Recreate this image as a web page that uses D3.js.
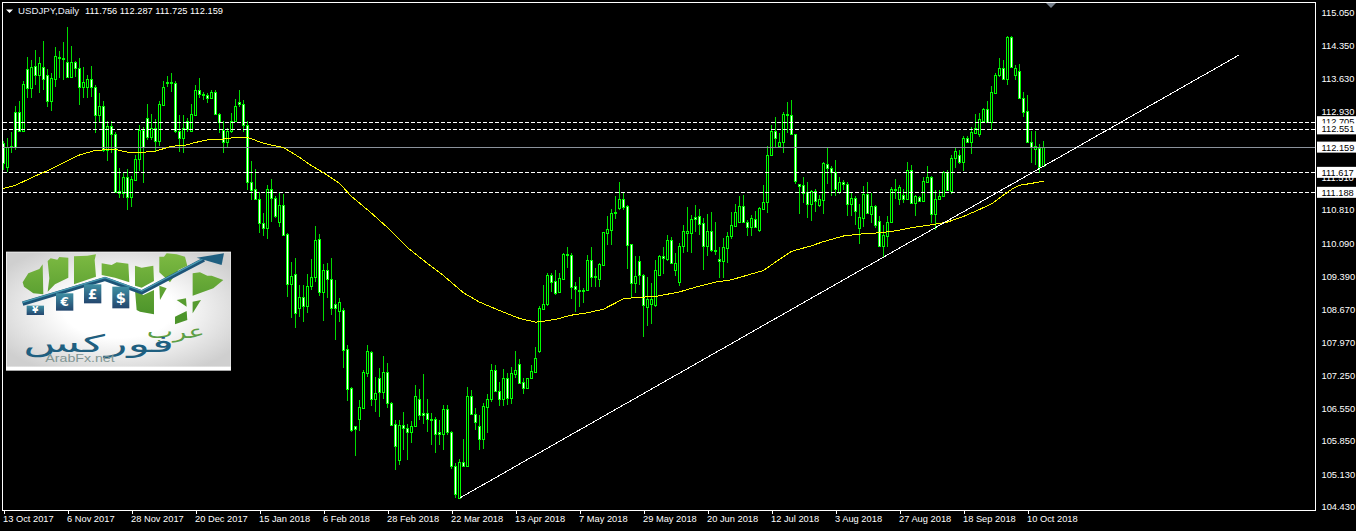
<!DOCTYPE html>
<html><head><meta charset="utf-8">
<script src="https://cdn.jsdelivr.net/npm/d3@7/dist/d3.min.js"></script>
<style>
html,body{margin:0;padding:0;background:#000;overflow:hidden}
svg{display:block}
text{font-family:"Liberation Sans",sans-serif}
</style></head><body>
<svg id="c" width="1356" height="531"></svg>
<script>
const symbolLabel = "USDJPY,Daily";
const quoteLabel = "111.756 112.287 111.725 112.159";
const opens = [112.24,111.74,112.16,112.91,112.92,112.51,113.83,113.42,113.90,113.71,
113.87,113.70,113.15,113.63,114.10,114.07,113.98,113.67,113.98,113.85,
113.44,113.44,113.62,113.44,112.85,113.04,112.10,112.61,112.43,111.22,
111.18,111.51,111.08,111.45,111.90,112.53,112.78,112.38,112.58,112.28,
113.06,113.55,113.53,113.53,112.51,112.36,112.71,112.51,112.85,113.39,
113.31,113.27,113.22,113.34,112.86,112.53,112.26,112.51,112.71,113.12,
113.08,112.63,111.42,111.25,111.05,110.52,110.43,111.27,111.07,110.54,
110.92,110.29,109.21,109.43,108.70,108.93,108.75,109.18,109.38,110.18,
109.05,109.53,109.32,108.78,108.63,108.66,107.82,106.98,106.18,106.31,
106.56,107.31,107.76,106.74,107.19,106.89,107.32,106.66,106.21,105.44,
106.19,106.12,106.05,106.16,106.74,106.44,106.44,106.33,106.33,106.03,
106.00,106.53,106.05,105.31,104.62,105.39,105.32,106.82,106.42,106.17,
105.88,106.58,106.76,107.37,106.93,106.74,107.19,106.78,107.29,107.50,
107.11,106.99,107.21,107.34,107.77,108.69,108.79,109.41,109.28,109.05,
109.33,109.86,109.84,109.18,109.10,109.08,109.09,109.74,109.39,109.32,
109.63,110.32,110.37,110.76,110.86,111.04,110.90,110.07,109.23,109.72,
109.41,108.73,108.79,108.77,109.41,109.82,109.76,110.16,109.53,109.27,
110.04,110.32,110.32,110.65,110.68,110.52,110.04,110.35,109.96,109.75,
109.71,110.00,110.24,110.47,110.54,110.90,110.54,110.45,110.61,110.37,
110.84,110.97,111.98,112.50,112.19,112.26,112.87,112.84,112.43,111.37,
111.34,111.20,110.94,111.21,110.92,111.02,111.80,111.70,111.63,111.20,
111.40,111.36,110.94,111.07,110.42,110.64,111.15,110.72,110.89,110.58,
110.04,110.26,110.54,111.27,111.05,111.13,111.04,111.67,110.95,111.08,
111.01,111.42,111.51,110.72,111.04,111.10,111.62,111.22,111.92,111.99,
111.83,112.35,112.26,112.47,112.43,112.73,112.97,112.69,113.33,113.70,
113.85,113.62,114.52,113.71,113.79,113.21,112.93,112.26,112.11,112.13,
111.756];
const closes = [111.81,112.17,112.18,112.17,112.51,113.52,113.42,113.87,113.71,113.96,
113.62,113.14,113.64,114.12,114.07,114.05,113.67,113.98,113.85,113.46,
113.55,113.62,113.44,112.85,113.04,112.10,112.61,112.43,111.20,111.18,
111.51,111.08,111.47,111.90,112.53,112.17,112.38,112.58,112.28,113.08,
113.46,113.53,113.55,112.51,112.36,112.58,112.54,112.86,113.39,113.30,
113.27,113.21,113.34,112.86,112.69,112.26,112.51,112.71,113.05,113.08,
112.63,111.42,111.24,111.05,110.52,110.43,111.27,111.07,110.68,110.92,
110.27,109.21,109.39,108.59,108.93,108.75,109.18,109.38,110.16,109.04,
109.53,109.32,108.71,108.71,108.83,107.80,106.97,106.08,106.10,106.57,
107.32,107.77,106.74,106.87,106.89,107.32,106.66,106.19,105.73,106.19,
106.12,106.05,106.17,106.81,106.41,106.41,106.31,106.30,106.00,106.00,
106.53,106.05,105.30,104.71,105.39,105.32,106.82,106.42,106.26,105.88,
106.60,106.76,107.37,106.93,106.74,107.19,106.78,107.30,107.37,107.10,
106.99,107.21,107.35,107.64,108.70,108.80,109.41,109.27,109.03,109.34,
109.86,109.84,109.16,109.12,109.08,109.10,109.74,109.38,109.36,109.65,
110.33,110.39,110.74,110.74,111.04,110.88,110.06,109.25,109.39,109.41,
108.76,108.89,108.89,109.53,109.82,109.77,110.16,109.68,109.68,110.04,
110.35,110.36,110.61,110.61,110.51,110.04,110.35,109.94,109.93,109.72,
110.01,110.25,110.48,110.76,110.90,110.54,110.45,110.63,110.45,110.85,
110.97,111.98,112.51,112.36,112.26,112.87,112.84,112.43,111.44,111.33,
111.18,110.94,111.21,111.01,111.04,111.81,111.70,111.63,111.26,111.40,
111.36,110.94,111.07,110.79,110.65,111.15,110.74,110.90,110.49,110.04,
110.27,110.54,111.27,111.25,111.30,111.05,111.67,110.95,111.10,111.01,
111.43,111.51,110.72,111.04,111.11,111.63,111.24,111.92,112.08,111.83,
112.36,112.26,112.48,112.58,112.76,112.97,112.69,113.34,113.70,113.85,
113.62,114.52,113.89,113.85,113.22,112.92,112.26,112.16,112.18,111.74,
112.159];
const highs = [112.28,112.35,112.49,113.04,113.14,113.58,114.10,114.03,114.25,114.10,
114.44,113.84,113.76,114.30,114.22,114.41,114.73,114.32,114.01,114.07,
113.89,113.71,113.91,113.49,113.32,113.14,112.71,112.71,112.49,111.70,
111.63,111.68,111.53,111.99,112.63,112.60,113.09,112.86,112.76,113.14,
113.57,113.69,113.74,113.57,112.85,112.85,112.78,113.09,113.49,113.64,
113.35,113.33,113.39,113.39,112.89,112.71,112.56,112.89,113.19,113.39,
113.17,112.71,111.87,111.68,111.20,110.74,111.35,111.47,111.10,111.20,
111.15,110.31,109.69,109.77,109.20,109.20,109.43,109.76,110.47,110.29,
109.64,109.66,109.77,109.31,108.91,108.70,107.91,107.00,106.18,106.73,
107.37,107.91,107.79,107.23,107.41,107.67,107.52,106.69,106.30,106.30,
106.48,106.21,106.28,107.05,106.96,107.29,106.76,106.44,106.37,106.30,
106.61,106.62,106.06,105.37,105.47,105.88,107.00,106.94,106.55,106.41,
106.66,106.86,107.50,107.48,107.12,107.39,107.30,107.44,107.78,107.60,
107.19,107.21,107.48,107.87,108.75,109.20,109.46,109.46,109.53,109.45,
109.88,110.02,109.88,109.27,109.38,109.13,109.84,110.01,109.56,109.66,
110.34,110.67,110.82,111.10,111.40,111.19,110.92,110.07,109.82,109.81,
109.43,109.38,109.23,109.73,109.84,110.01,110.27,110.22,109.88,110.09,
110.49,110.87,110.70,110.92,110.82,110.63,110.72,110.77,110.56,110.02,
110.20,110.34,110.77,110.94,111.10,111.13,110.59,110.70,110.79,110.88,
111.35,112.18,112.63,112.80,112.46,112.91,113.12,113.17,112.44,111.37,
111.51,111.40,111.24,111.25,111.13,111.85,112.16,111.75,111.88,111.51,
111.45,111.40,111.20,111.10,110.94,111.32,111.42,111.17,110.92,110.67,
110.49,110.67,111.31,111.47,111.35,111.27,111.84,111.78,111.13,111.11,
111.51,111.75,111.53,111.24,111.24,111.65,111.67,111.99,112.16,112.10,
112.40,112.40,112.60,112.87,112.90,112.99,113.14,113.47,113.76,114.07,
114.02,114.55,114.55,113.92,113.95,113.35,113.28,112.51,112.51,112.22,
112.287];
const lows = [111.67,111.63,112.03,112.10,112.49,112.49,113.21,113.21,113.49,113.32,
113.39,113.01,112.94,113.46,113.64,113.60,113.67,113.64,113.67,113.06,
113.21,113.21,113.24,112.47,112.67,112.06,111.87,112.03,111.17,111.06,
111.06,110.81,110.88,111.45,111.65,111.38,112.31,112.31,112.08,112.18,
113.06,113.46,113.35,112.46,112.06,112.03,112.49,112.49,112.85,113.21,
113.17,113.10,113.21,112.85,112.46,112.03,112.17,112.46,112.69,113.03,
112.49,111.24,111.02,111.02,110.31,110.24,110.18,110.56,110.63,110.45,
110.25,108.95,108.48,108.27,108.50,108.40,108.59,109.09,109.27,108.97,
108.42,108.91,108.55,108.02,108.40,107.41,106.71,106.03,105.53,106.07,
106.55,107.23,106.59,106.48,106.37,106.76,106.55,106.17,105.22,105.33,
105.65,105.44,105.80,106.16,106.30,106.21,106.03,105.76,105.60,105.76,
105.65,105.98,105.25,104.62,104.62,105.32,105.32,106.41,106.08,105.65,
105.68,106.01,106.69,106.91,106.60,106.60,106.62,106.64,107.19,107.09,
106.86,106.96,107.19,107.32,107.74,108.66,108.75,109.05,108.98,109.02,
109.32,109.56,108.90,108.61,108.73,108.82,109.09,109.16,109.15,109.16,
109.63,110.06,110.06,110.61,110.81,110.81,109.54,108.95,109.03,109.20,
108.09,108.32,108.37,108.72,109.39,109.43,109.72,109.66,109.39,109.18,
109.88,109.91,109.89,110.34,110.27,109.52,109.82,109.91,109.84,109.34,
109.34,109.68,110.18,110.45,110.52,110.52,110.25,110.25,110.44,110.34,
110.82,110.75,111.98,112.16,112.16,112.03,112.46,112.41,111.37,110.72,
110.95,110.63,110.58,110.77,110.88,110.72,111.37,111.11,111.10,111.15,
111.24,110.68,110.68,110.49,110.08,110.45,110.72,110.52,110.42,110.02,
109.77,110.01,110.52,111.04,110.92,110.95,111.04,110.94,110.67,110.99,
110.99,111.40,110.52,110.37,111.02,111.08,111.22,111.15,111.70,111.80,
111.65,112.24,112.01,112.46,112.38,112.71,112.67,112.53,113.32,113.66,
113.60,113.49,113.87,113.60,113.21,112.81,112.24,111.81,111.78,111.61,
111.725];
const maBars = [0,3,8,12,16,19,23,28,31,35,38,42,45,48,52,55,58,61,65,70,74,77,80,84,87,92,96,101,106,110,115,119,124,129,133,135,138,142,146,150,155,158,163,166,169,173,178,182,186,190,193,197,202,205,210,214,219,223,227,232,236,240,244,247,250,252,254,257,260];
const maValues = [111.27,111.34,111.54,111.69,111.87,111.99,112.09,112.11,112.05,112.05,112.07,112.18,112.19,112.26,112.33,112.33,112.37,112.37,112.24,112.15,111.94,111.76,111.61,111.38,111.10,110.74,110.43,110.00,109.66,109.40,109.03,108.83,108.65,108.48,108.40,108.42,108.46,108.55,108.60,108.68,108.90,108.93,108.95,109.00,109.05,109.15,109.26,109.31,109.41,109.51,109.69,109.92,110.04,110.13,110.25,110.29,110.32,110.36,110.43,110.49,110.55,110.67,110.82,110.94,111.13,111.25,111.34,111.38,111.43];
const trendBars = [114,308.75];
const trendValues = [104.62,114.13];
const dashedLevels = [112.705,112.551,111.617,111.188];
const currentPrice = 112.159;
const priceTicks = [115.05,114.35,113.63,112.93,112.21,111.51,110.81,110.09,109.39,108.67,107.97,107.25,106.55,105.85,105.13,104.43];
const timeLabels = ["13 Oct 2017","6 Nov 2017","28 Nov 2017","20 Dec 2017","15 Jan 2018","6 Feb 2018","28 Feb 2018","22 Mar 2018","13 Apr 2018","7 May 2018","29 May 2018","20 Jun 2018","12 Jul 2018","3 Aug 2018","27 Aug 2018","18 Sep 2018","10 Oct 2018"];
const timeLabelBars = timeLabels.map((_, k) => k * 16);

const svg = d3.select("#c");
const x = d3.scaleLinear().domain([0, 100]).range([3.5, 403.5]);
const y = d3.scaleLinear().domain([104.43, 115.05]).range([507, 12.5]);
const yPix = v => Math.round(y(v)) + 0.5;
const fmt = d3.format(".3f");
const labelSize = 9.3;

const defs = svg.append("defs");
defs.append("clipPath").attr("id", "plot").append("rect").attr("x", 3).attr("y", 3).attr("width", 1312).attr("height", 507);

const bg = defs.append("radialGradient").attr("id", "lgBg").attr("cx", "50%").attr("cy", "50%").attr("r", "62%");
bg.append("stop").attr("offset", "40%").attr("stop-color", "#ffffff");
bg.append("stop").attr("offset", "100%").attr("stop-color", "#cfcfcf");
const gr = defs.append("linearGradient").attr("id", "lgGreen").attr("gradientUnits", "userSpaceOnUse").attr("x1", 0).attr("y1", 25).attr("x2", 0).attr("y2", 210);
gr.append("stop").attr("offset", "0%").attr("stop-color", "#7dba42");
gr.append("stop").attr("offset", "100%").attr("stop-color", "#4c942a");
const bl = defs.append("linearGradient").attr("id", "lgBlue").attr("x1", 0).attr("y1", 0).attr("x2", 0).attr("y2", 1);
bl.append("stop").attr("offset", "0%").attr("stop-color", "#3f8fa3");
bl.append("stop").attr("offset", "100%").attr("stop-color", "#23466e");

const plot = svg.append("g").attr("clip-path", "url(#plot)");

const idx = d3.range(opens.length);
plot.append("g").selectAll("line").data(idx).join("line")
  .attr("x1", i => x(i)).attr("x2", i => x(i))
  .attr("y1", i => y(highs[i])).attr("y2", i => y(lows[i]))
  .attr("stroke", "#00dc00").attr("stroke-width", 1).attr("shape-rendering", "crispEdges");
plot.append("g").selectAll("rect").data(idx).join("rect")
  .attr("x", i => x(i) - 1)
  .attr("width", 2)
  .attr("y", i => yPix(Math.max(opens[i], closes[i])))
  .attr("height", i => Math.max(1, yPix(Math.min(opens[i], closes[i])) - yPix(Math.max(opens[i], closes[i]))))
  .attr("fill", i => closes[i] >= opens[i] ? "#000" : "#fff")
  .attr("stroke", "#00ff00").attr("stroke-width", 1).attr("shape-rendering", "crispEdges");

plot.append("g").selectAll("line").data(dashedLevels).join("line")
  .attr("x1", 3).attr("x2", 1315)
  .attr("y1", d => yPix(d)).attr("y2", d => yPix(d))
  .attr("stroke", "#fff").attr("stroke-dasharray", "4 2").attr("shape-rendering", "crispEdges");
plot.append("line").attr("x1", 3).attr("x2", 1315).attr("y1", yPix(currentPrice)).attr("y2", yPix(currentPrice))
  .attr("stroke", "#8b929c").attr("shape-rendering", "crispEdges");

plot.append("path").attr("d", d3.line().x((_, k) => x(maBars[k])).y(d => y(d))(maValues))
  .attr("fill", "none").attr("stroke", "#ffff00").attr("stroke-width", 1).attr("shape-rendering", "crispEdges");
plot.append("path").attr("d", d3.line().x((_, k) => x(trendBars[k])).y(d => y(d))(trendValues))
  .attr("fill", "none").attr("stroke", "#ffffff").attr("stroke-width", 1).attr("shape-rendering", "crispEdges");

svg.append("path").attr("d", "M1046,3H1056L1051,8Z").attr("fill", "#77808c");

svg.append("rect").attr("x", 2.5).attr("y", 2.5).attr("width", 1313).attr("height", 508)
  .attr("fill", "none").attr("stroke", "#fff").attr("shape-rendering", "crispEdges");

const yAxis = svg.append("g").attr("transform", "translate(1316,0)")
  .call(d3.axisRight(y).tickValues(priceTicks).tickFormat(fmt).tickSize(0).tickPadding(5.5));
yAxis.select(".domain").remove();
yAxis.selectAll("text").attr("fill", "#fff").attr("font-size", labelSize).style("font-family", '"Liberation Sans",sans-serif');

const boxes = svg.append("g");
[...dashedLevels.slice(0, 2), currentPrice, ...dashedLevels.slice(2)].forEach(v => {
  const g = boxes.append("g").attr("transform", `translate(1317,${y(v)})`);
  g.append("rect").attr("x", 0).attr("y", -5.5).attr("width", 39).attr("height", 11).attr("fill", "#fff");
  g.append("text").attr("x", 4.5).attr("y", 3.4).attr("fill", "#000").attr("font-size", labelSize).text(fmt(v));
});

const xAxis = svg.append("g").attr("transform", "translate(0,510.5)")
  .call(d3.axisBottom(x).tickValues(timeLabelBars).tickFormat((_, k) => timeLabels[k]).tickSize(3).tickPadding(2));
xAxis.select(".domain").remove();
xAxis.selectAll("line").attr("stroke", "#fff").attr("shape-rendering", "crispEdges");
xAxis.selectAll("text").attr("fill", "#fff").attr("font-size", labelSize).attr("text-anchor", "start").attr("dx", -1)
  .style("font-family", '"Liberation Sans",sans-serif');

svg.append("path").attr("d", "M6,9.5H13L9.5,13Z").attr("fill", "#fff");
svg.append("text").attr("x", 18).attr("y", 14).attr("fill", "#e8eef8").attr("font-size", 9.7).text(symbolLabel);
svg.append("text").attr("x", 85).attr("y", 14).attr("fill", "#fff").attr("font-size", labelSize).text(quoteLabel);

// logo (drawn in 3x coordinates)
const logo = svg.append("g").attr("transform", "translate(0,245) scale(0.3333)");
logo.append("rect").attr("x", 18).attr("y", 20).attr("width", 675).attr("height", 357).attr("fill", "#fff");
logo.append("rect").attr("x", 20).attr("y", 22).attr("width", 672).attr("height", 343).attr("fill", "url(#lgBg)");
const greens = [
 "M68,112L85,85L118,72L128,58L130,148L100,145L72,125Z",
 "M143,48L152,40L172,44L178,36L205,38L205,98L165,118L143,140L148,100Z",
 "M222,34L262,32L288,28L284,45L288,95L222,118Z",
 "M305,55L335,60L350,52L385,56L388,112L345,98L305,90Z",
 "M405,62L425,68L460,62L462,108L425,128L405,122Z",
 "M405,135L430,150L462,135L462,208L420,200L410,195Z",
 "M478,35L492,35L500,25L530,28L555,35L562,62L535,75L510,112L478,82Z",
 "M578,85L600,82L622,92L635,92L670,105L640,130L578,152Z",
 "M478,122L500,130L480,165Z",
 "M530,165L558,160L560,185Z",
 "M578,170L603,165L578,205Z",
 "M525,215L560,198L562,225L525,238Z"];
logo.append("g").selectAll("path").data(greens).join("path").attr("d", d => d).attr("fill", "url(#lgGreen)");
logo.append("path").attr("d", "M68,176L315,102L425,142L612,44").attr("fill", "none").attr("stroke", "#1d5578").attr("stroke-width", 13).attr("stroke-linejoin", "round");
logo.append("path").attr("d", "M68,172L315,98L425,138L612,40").attr("fill", "none").attr("stroke", "#4a9cb2").attr("stroke-width", 4).attr("stroke-linejoin", "round");
logo.append("path").attr("d", "M590,38L672,25L665,60Z").attr("fill", "#1f5f80");
const badges = [[80,182,52,28,"¥",26],[168,145,52,52,"€",36],[252,118,52,57,"£",40],[337,125,51,65,"$",44]];
const bgs = logo.append("g");
badges.forEach(b => {
  bgs.append("rect").attr("x", b[0]).attr("y", b[1]).attr("width", b[2]).attr("height", b[3]).attr("fill", "url(#lgBlue)");
  bgs.append("text").attr("x", b[0] + b[2] / 2).attr("y", b[1] + b[3] / 2 + b[5] * 0.36).attr("text-anchor", "middle").attr("font-size", b[5]).attr("font-weight", 700).attr("fill", "#fff").style("font-family", "'DejaVu Sans'").text(b[4]);
});
logo.append("text").attr("x", 615).attr("y", 278).attr("text-anchor", "end").attr("font-size", 56).attr("fill", "#5d9e46").attr("textLength", 175).attr("lengthAdjust", "spacingAndGlyphs").style("font-family", "'DejaVu Sans'").text("عرب");
logo.append("text").attr("x", 522).attr("y", 320).attr("text-anchor", "end").attr("font-size", 72).attr("fill", "#1f5f80").attr("textLength", 452).attr("lengthAdjust", "spacingAndGlyphs").style("font-family", "'DejaVu Sans'").text("فوركس");
logo.append("text").attr("x", 240).attr("y", 352).attr("text-anchor", "middle").attr("font-size", 32).attr("fill", "#7f9593").attr("textLength", 208).attr("lengthAdjust", "spacingAndGlyphs").style("font-family", "'Liberation Sans'").text("ArabFx.net");
</script>
</body></html>
